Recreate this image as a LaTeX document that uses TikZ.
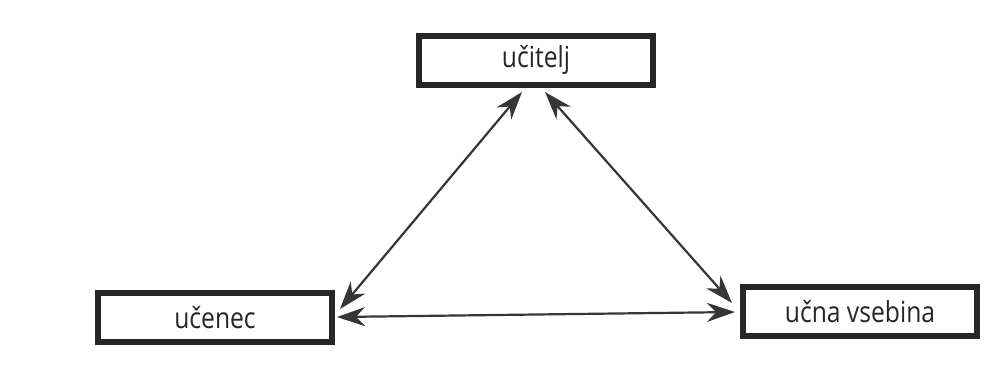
\documentclass[tikz,border=0pt]{standalone}
\usepackage{fontspec}
\setmainfont{Open Sans}
\usetikzlibrary{arrows.meta}
\definecolor{ink}{HTML}{262626}
\definecolor{linegray}{HTML}{363636}
\tikzset{
  rolebox/.style={draw=ink, line width=6pt, fill=white, inner sep=0pt,
    minimum width=234pt, minimum height=49pt,
    font=\fontsize{29}{33}\selectfont, text=ink},
  link/.style={draw=linegray, line width=2.2pt,
    {Stealth[length=28pt,width=19pt,inset=9pt]}-{Stealth[length=28pt,width=19pt,inset=9pt]}}
}
\newcommand{\squeezed}[1]{\scalebox{0.85}[1]{#1}}
\begin{document}
\begin{tikzpicture}[x=1pt,y=-1pt]
  \useasboundingbox (0,0) rectangle (999,376);
  \fill[white] (0,0) rectangle (999,376);

  % the three roles of the didactic triangle
  \node[rolebox] (teacher) at (536,60)    {\squeezed{učitelj}};
  \node[rolebox] (pupil)   at (215,317.5) {\squeezed{učenec}};
  \node[rolebox] (content) at (860,311.5) {\squeezed{učna vsebina}};

  % arrow end points just off the box borders
  \coordinate (pT) at (522,92);
  \coordinate (pP) at (340,309);
  \coordinate (cT) at (545,92);
  \coordinate (cC) at (732,303);
  \coordinate (hP) at (337,317);
  \coordinate (hC) at (735,312);

  \draw[link] (pP) -- (pT);
  \draw[link] (cT) -- (cC);
  \draw[link] (hP) -- (hC);
\end{tikzpicture}
\end{document}
